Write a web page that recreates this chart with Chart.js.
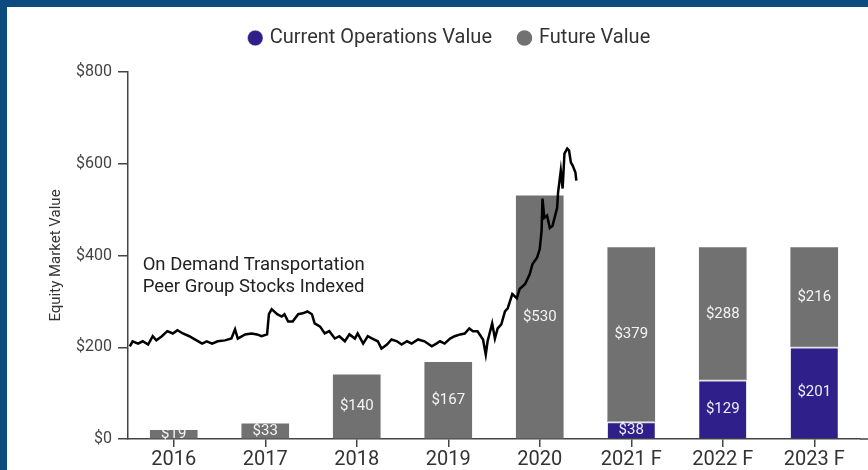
<!DOCTYPE html>
<html>
<head>
<meta charset="utf-8">
<script src="https://cdn.jsdelivr.net/npm/chart.js@4/dist/chart.umd.min.js"></script>
<style>
  html, body { margin: 0; padding: 0; background: #0c4b80; overflow: hidden; }
  #frame { position: absolute; left: 7px; top: 7px; width: 861px; height: 463px; background: #fff; overflow: hidden; }
  canvas { display: block; }
</style>
</head>
<body>
<div id="frame"><canvas id="chart" width="861" height="466"></canvas></div>
<script>
// bar chart data
const categories = ["2016", "2017", "2018", "2019", "2020", "2021 F", "2022 F", "2023 F"];
const currentOps = [null, null, null, null, null, 38, 129, 201];
const futureValue = [19, 33, 140, 167, 530, 379, 288, 216];
const yTicks = [0, 200, 400, 600, 800];

// peer group index line (x = position in years, y = indexed value)
const lineYears = [
  2015.52, 2015.55, 2015.61, 2015.66, 2015.72, 2015.77, 2015.81, 2015.87, 2015.93, 2015.99,
  2016.04, 2016.10, 2016.17, 2016.23, 2016.31, 2016.36, 2016.42, 2016.48, 2016.56, 2016.63,
  2016.67, 2016.70, 2016.78, 2016.85, 2016.91, 2016.96, 2017.02, 2017.04, 2017.07, 2017.13,
  2017.18, 2017.21, 2017.25, 2017.30, 2017.36, 2017.41, 2017.46, 2017.51, 2017.54, 2017.60,
  2017.65, 2017.70, 2017.76, 2017.81, 2017.87, 2017.92, 2017.98, 2018.01, 2018.07, 2018.12,
  2018.17, 2018.23, 2018.27, 2018.33, 2018.38, 2018.44, 2018.49, 2018.55, 2018.60, 2018.67,
  2018.74, 2018.82, 2018.87, 2018.91, 2018.96, 2019.02, 2019.07, 2019.13, 2019.18, 2019.23,
  2019.27, 2019.32, 2019.38, 2019.41, 2019.43, 2019.48, 2019.51, 2019.54, 2019.58, 2019.62,
  2019.65, 2019.70, 2019.75, 2019.78, 2019.84, 2019.89, 2019.92, 2019.97, 2020.00, 2020.02,
  2020.03, 2020.05, 2020.08, 2020.11, 2020.14, 2020.19, 2020.20, 2020.23, 2020.25, 2020.27,
  2020.30, 2020.32, 2020.34, 2020.36, 2020.39, 2020.40
];
const lineValues = [
  202, 213, 208, 213, 206, 224, 215, 224, 235, 230,
  237, 230, 224, 217, 208, 213, 208, 213, 215, 219,
  239, 219, 228, 230, 228, 224, 228, 272, 283, 272,
  267, 272, 256, 256, 272, 274, 278, 272, 252, 245,
  230, 235, 219, 224, 213, 228, 219, 230, 208, 224,
  219, 213, 197, 206, 217, 213, 206, 213, 208, 217,
  213, 202, 208, 213, 208, 219, 224, 228, 230, 241,
  235, 235, 217, 184, 213, 252, 219, 241, 250, 278,
  285, 316, 307, 327, 338, 359, 381, 395, 414, 454,
  524, 482, 487, 460, 465, 504, 537, 585, 546, 622,
  633, 629, 603, 596, 581, 563
];

const FONT = "Roboto";
const INK = "#444";

// draws value labels in bars, the text note and extends the x axis line
const decorations = {
    id: "decorations",
    afterLayout(chart) {
        // nudge legend to where it sits in the original
        const lg = chart.legend;
        const dx = 17, dy = -14;
        lg.left += dx; lg.right += dx;
        lg.top += dy; lg.bottom += dy;
    },
    afterDatasetsDraw(chart) {
        const ctx = chart.ctx;
        const area = chart.chartArea;
        ctx.save();
        ctx.font = "15px " + FONT;
        ctx.fillStyle = "rgba(255,255,255,0.92)";
        ctx.textAlign = "center";
        ctx.textBaseline = "middle";
        [0, 1].forEach(di => {
            const meta = chart.getDatasetMeta(di);
            const values = chart.data.datasets[di].data;
            meta.data.forEach((bar, i) => {
                if (values[i] == null) return;
                ctx.fillText("$" + values[i], bar.x, (bar.y + bar.base) / 2);
            });
        });

        // note text
        const xs = chart.scales.xl, ys = chart.scales.y;
        ctx.font = "18.5px " + FONT;
        ctx.fillStyle = "#222";
        ctx.textAlign = "left";
        const tx = xs.getPixelForValue(2015.66);
        const ty = ys.getPixelForValue(379);
        ctx.fillText("On Demand Transportation", tx, ty);
        ctx.fillText("Peer Group Stocks Indexed", tx, ty + 22);

        // x axis line runs on to the edge
        ctx.strokeStyle = INK;
        ctx.lineWidth = 1.5;
        ctx.beginPath();
        ctx.moveTo(area.right, area.bottom);
        ctx.lineTo(chart.width, area.bottom);
        ctx.stroke();
        ctx.restore();
    }
};

new Chart(document.getElementById("chart"), {
    data: {
        labels: categories,
        datasets: [
            {
                type: "bar",
                label: "Current Operations Value",
                data: currentOps,
                backgroundColor: "#2e1f8a",
                borderColor: "#e4e4e4",
                borderWidth: { top: 2, left: 0, right: 0, bottom: 0 },
                borderSkipped: false,
                barThickness: 47,
                grouped: false,
                order: 1
            },
            {
                type: "bar",
                label: "Future Value",
                data: futureValue,
                backgroundColor: "#717171",
                barThickness: 47,
                grouped: false,
                order: 1
            },
            {
                type: "line",
                label: "Peer Group Index",
                data: lineYears.map((x, i) => ({ x: x, y: lineValues[i] })),
                xAxisID: "xl",
                stack: "line",
                borderColor: "#000",
                borderWidth: 2.5,
                pointRadius: 0,
                tension: 0,
                order: 0
            }
        ]
    },
    options: {
        responsive: false,
        animation: false,
        layout: { padding: { top: 7, right: 8, left: 0, bottom: 0 } },
        plugins: {
            tooltip: { enabled: false },
            legend: {
                position: "top",
                labels: {
                    filter: item => item.datasetIndex < 2,
                    usePointStyle: true,
                    pointStyle: "circle",
                    boxWidth: 9,
                    boxHeight: 11,
                    padding: 28,
                    color: "#333",
                    font: { family: FONT, size: 20 }
                }
            }
        },
        scales: {
            x: {
                stacked: true,
                grid: { drawOnChartArea: false, offset: false, tickLength: 8, color: INK, lineWidth: 1.5 },
                border: { color: INK, width: 1.5 },
                ticks: { color: "#333", padding: 3, font: { family: FONT, size: 20, lineHeight: 1 } }
            },
            xl: {
                type: "linear",
                display: false,
                min: 2015.5,
                max: 2023.5
            },
            y: {
                stacked: true,
                min: yTicks[0],
                max: yTicks[yTicks.length - 1],
                afterBuildTicks: scale => { scale.ticks = yTicks.map(v => ({ value: v })); },
                afterFit: scale => { scale.width = 121; },
                grid: { drawOnChartArea: false, tickLength: 10, color: INK, lineWidth: 1.5 },
                border: { color: INK, width: 1.5 },
                ticks: {
                    color: INK,
                    padding: 6,
                    font: { family: FONT, size: 16 },
                    callback: v => "$" + v
                },
                title: {
                    display: true,
                    text: "Equity Market Value",
                    color: "#333",
                    padding: { top: 40, bottom: 0 },
                    font: { family: FONT, size: 15 }
                }
            }
        }
    },
    plugins: [decorations]
});
</script>
</body>
</html>
